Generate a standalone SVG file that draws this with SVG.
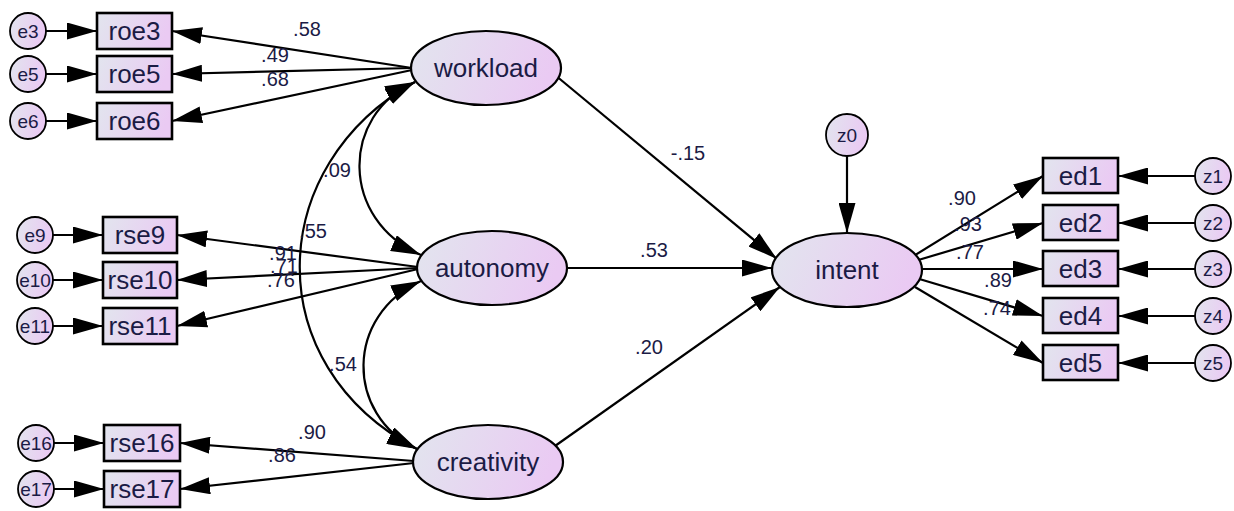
<svg xmlns="http://www.w3.org/2000/svg" width="1234" height="511" viewBox="0 0 1234 511">
<style>
.n{stroke:#000;fill:url(#g)}
.el{stroke-width:2.2}
.bx{stroke-width:2.6}
.ci{stroke-width:1.8}
.c path{fill:none;stroke:#000;stroke-width:2.2}
.t{font-family:"Liberation Sans",Arial,sans-serif;fill:#1b1b45;text-anchor:middle}
.big{font-size:26px}
.sm{font-size:19px}
.lb{font-family:"Liberation Sans",Arial,sans-serif;fill:#1b1b45;text-anchor:middle;font-size:20px}
</style>
<defs>
<linearGradient id="g" x1="0" y1="0" x2="1" y2="0.2">
<stop offset="0" stop-color="#e2e5ee"/>
<stop offset="1" stop-color="#eacaf3"/>
</linearGradient>
<marker id="a" markerUnits="userSpaceOnUse" viewBox="0 0 30 17" markerWidth="30" markerHeight="17" refX="30" refY="8.5" orient="auto-start-reverse">
<path d="M0,0 L30,8.5 L0,17 z" fill="#000"/>
</marker>
</defs>
<rect width="1234" height="511" fill="#fff"/>
<g id="connectors" class="c">
<!-- error to indicators -->
<path d="M46 31 L97 31" marker-end="url(#a)"/>
<path d="M46 74 L97 74" marker-end="url(#a)"/>
<path d="M46 121 L97 121" marker-end="url(#a)"/>
<path d="M53 235 L103 235" marker-end="url(#a)"/>
<path d="M53 280 L103 280" marker-end="url(#a)"/>
<path d="M53 326 L103 326" marker-end="url(#a)"/>
<path d="M54 443 L104 443" marker-end="url(#a)"/>
<path d="M54 489 L104 489" marker-end="url(#a)"/>
<!-- latent to indicators -->
<path d="M412 68 L172 31" marker-end="url(#a)"/>
<path d="M412 68 L172 74" marker-end="url(#a)"/>
<path d="M412 70 L172 121" marker-end="url(#a)"/>
<path d="M418 267 L177 235" marker-end="url(#a)"/>
<path d="M418 268 L177 280" marker-end="url(#a)"/>
<path d="M418 269 L177 326" marker-end="url(#a)"/>
<path d="M414 461 L180 443" marker-end="url(#a)"/>
<path d="M414 463 L180 489" marker-end="url(#a)"/>
<!-- covariances -->
<path d="M415 82 C340 115 340 220 421 255" marker-start="url(#a)" marker-end="url(#a)"/>
<path d="M415 82 C265 165 257 365 417 449" marker-start="url(#a)" marker-end="url(#a)"/>
<path d="M421 281 C345 315 345 415 417 449" marker-start="url(#a)" marker-end="url(#a)"/>
<!-- structural paths -->
<path d="M555 75 L777 259" marker-end="url(#a)"/>
<path d="M560 268 L772 268" marker-end="url(#a)"/>
<path d="M555 446 L780 287" marker-end="url(#a)"/>
<path d="M847 156 L847 233" marker-end="url(#a)"/>
<!-- intent to ed -->
<path d="M912 257 L1043 176" marker-end="url(#a)"/>
<path d="M915 261 L1043 223" marker-end="url(#a)"/>
<path d="M920 269 L1043 269" marker-end="url(#a)"/>
<path d="M916 278 L1043 316" marker-end="url(#a)"/>
<path d="M915 287 L1043 363" marker-end="url(#a)"/>
<!-- z to ed -->
<path d="M1195 176 L1118 176" marker-end="url(#a)"/>
<path d="M1195 223 L1118 223" marker-end="url(#a)"/>
<path d="M1195 269 L1118 269" marker-end="url(#a)"/>
<path d="M1195 316 L1118 316" marker-end="url(#a)"/>
<path d="M1195 363 L1118 363" marker-end="url(#a)"/>
</g>
<g id="labels">
<text class="lb" x="307" y="36">.58</text>
<text class="lb" x="275" y="62">.49</text>
<text class="lb" x="275" y="86">.68</text>
<text class="lb" x="337" y="177">.09</text>
<text class="lb" x="313" y="238">.55</text>
<text class="lb" x="283" y="260">.91</text>
<text class="lb" x="284" y="273">.71</text>
<text class="lb" x="281" y="287">.76</text>
<text class="lb" x="343" y="371">.54</text>
<text class="lb" x="312" y="439">.90</text>
<text class="lb" x="282" y="462">.86</text>
<text class="lb" x="688" y="160">-.15</text>
<text class="lb" x="654" y="257">.53</text>
<text class="lb" x="649" y="354">.20</text>
<text class="lb" x="962" y="205">.90</text>
<text class="lb" x="968" y="231">.93</text>
<text class="lb" x="970" y="259">.77</text>
<text class="lb" x="998" y="287">.89</text>
<text class="lb" x="997" y="315">.74</text>
</g>
<g id="workload"><ellipse class="n el" cx="486" cy="68" rx="75" ry="37"/><text class="t big" x="486" y="77">workload</text></g>
<g id="autonomy"><ellipse class="n el" cx="492" cy="268" rx="75" ry="37"/><text class="t big" x="492" y="277">autonomy</text></g>
<g id="creativity"><ellipse class="n el" cx="488" cy="462" rx="75" ry="37"/><text class="t big" x="488" y="471">creativity</text></g>
<g id="intent"><ellipse class="n el" cx="847" cy="270" rx="75" ry="37"/><text class="t big" x="847" y="279">intent</text></g>
<g id="roe3"><rect class="n bx" x="97" y="13" width="75" height="36"/><text class="t big" x="134.5" y="40">roe3</text></g>
<g id="roe5"><rect class="n bx" x="97" y="56" width="75" height="36"/><text class="t big" x="134.5" y="83">roe5</text></g>
<g id="roe6"><rect class="n bx" x="97" y="103" width="75" height="36"/><text class="t big" x="134.5" y="130">roe6</text></g>
<g id="rse9"><rect class="n bx" x="103" y="217" width="74" height="36"/><text class="t big" x="140" y="244">rse9</text></g>
<g id="rse10"><rect class="n bx" x="103" y="262" width="74" height="36"/><text class="t big" x="140" y="289">rse10</text></g>
<g id="rse11"><rect class="n bx" x="103" y="308" width="74" height="36"/><text class="t big" x="140" y="335">rse11</text></g>
<g id="rse16"><rect class="n bx" x="104" y="425" width="76" height="36"/><text class="t big" x="142" y="452">rse16</text></g>
<g id="rse17"><rect class="n bx" x="104" y="471" width="76" height="36"/><text class="t big" x="142" y="498">rse17</text></g>
<g id="ed1"><rect class="n bx" x="1043" y="158" width="75" height="35"/><text class="t big" x="1080.5" y="185">ed1</text></g>
<g id="ed2"><rect class="n bx" x="1043" y="205" width="75" height="35"/><text class="t big" x="1080.5" y="232">ed2</text></g>
<g id="ed3"><rect class="n bx" x="1043" y="251" width="75" height="35"/><text class="t big" x="1080.5" y="278">ed3</text></g>
<g id="ed4"><rect class="n bx" x="1043" y="298" width="75" height="35"/><text class="t big" x="1080.5" y="325">ed4</text></g>
<g id="ed5"><rect class="n bx" x="1043" y="345" width="75" height="35"/><text class="t big" x="1080.5" y="372">ed5</text></g>
<g id="e3"><circle class="n ci" cx="28" cy="31" r="18"/><text class="t sm" x="28" y="38">e3</text></g>
<g id="e5"><circle class="n ci" cx="28" cy="74" r="18"/><text class="t sm" x="28" y="81">e5</text></g>
<g id="e6"><circle class="n ci" cx="28" cy="121" r="18"/><text class="t sm" x="28" y="128">e6</text></g>
<g id="e9"><circle class="n ci" cx="35" cy="235" r="18"/><text class="t sm" x="35" y="242">e9</text></g>
<g id="e10"><circle class="n ci" cx="35" cy="280" r="18"/><text class="t sm" x="35" y="287">e10</text></g>
<g id="e11"><circle class="n ci" cx="35" cy="326" r="18"/><text class="t sm" x="35" y="333">e11</text></g>
<g id="e16"><circle class="n ci" cx="36" cy="443" r="18"/><text class="t sm" x="36" y="450">e16</text></g>
<g id="e17"><circle class="n ci" cx="36" cy="489" r="18"/><text class="t sm" x="36" y="496">e17</text></g>
<g id="z0"><circle class="n ci" cx="847" cy="135" r="21"/><text class="t sm" x="847" y="142">z0</text></g>
<g id="z1"><circle class="n ci" cx="1213" cy="176" r="18"/><text class="t sm" x="1213" y="183">z1</text></g>
<g id="z2"><circle class="n ci" cx="1213" cy="223" r="18"/><text class="t sm" x="1213" y="230">z2</text></g>
<g id="z3"><circle class="n ci" cx="1213" cy="269" r="18"/><text class="t sm" x="1213" y="276">z3</text></g>
<g id="z4"><circle class="n ci" cx="1213" cy="316" r="18"/><text class="t sm" x="1213" y="323">z4</text></g>
<g id="z5"><circle class="n ci" cx="1213" cy="363" r="18"/><text class="t sm" x="1213" y="370">z5</text></g>
</svg>
